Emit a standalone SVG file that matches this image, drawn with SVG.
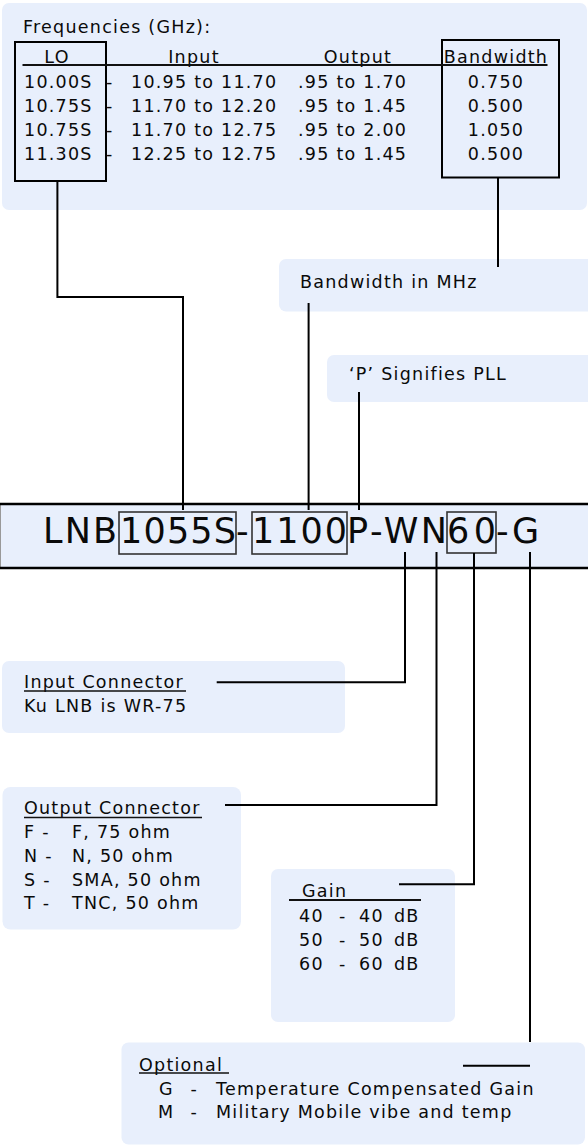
<svg xmlns="http://www.w3.org/2000/svg" width="588" height="1147" viewBox="0 0 588 1147">
<style>
.panel{fill:#e8effc}
.t{font-family:"DejaVu Sans",Verdana,sans-serif;font-size:17.5px;letter-spacing:1.25px;fill:#0a0a0a}
.big{font-family:"DejaVu Sans",Verdana,sans-serif;font-size:35px;fill:#0a0a0a}
.m{text-anchor:middle}
.ln{stroke:#000;stroke-width:2;fill:none}
.ul{stroke:#111;stroke-width:1.4;fill:none}
.box{fill:none;stroke:#000;stroke-width:2}
.sbox{fill:none;stroke:#333;stroke-width:1.6}
</style>
<rect width="588" height="1147" fill="#fff"/>
<g id="freq-table">
<rect class="panel" x="2" y="3" width="585" height="207" rx="7"/>
<text class="t" x="23" y="33">Frequencies (GHz):</text>
<rect class="box" x="15" y="42" width="91" height="139"/>
<rect class="box" x="442" y="40" width="117" height="137.5"/>
<text class="t m" x="57" y="63.3">LO</text>
<text class="t m" x="194" y="63.3">Input</text>
<text class="t m" x="358" y="63.3">Output</text>
<text class="t m" x="496" y="63.3">Bandwidth</text>
<line class="ul" x1="22.5" y1="65" x2="547.5" y2="65" style="stroke-width:1.8"/>
<text class="t" y="87.7"><tspan x="24">10.00S</tspan><tspan x="106">-</tspan><tspan x="131">10.95 to 11.70</tspan><tspan x="298">.95 to 1.70</tspan></text>
<text class="t m" x="496" y="87.7">0.750</text>
<text class="t" y="111.9"><tspan x="24">10.75S</tspan><tspan x="106">-</tspan><tspan x="131">11.70 to 12.20</tspan><tspan x="298">.95 to 1.45</tspan></text>
<text class="t m" x="496" y="111.9">0.500</text>
<text class="t" y="136.1"><tspan x="24">10.75S</tspan><tspan x="106">-</tspan><tspan x="131">11.70 to 12.75</tspan><tspan x="298">.95 to 2.00</tspan></text>
<text class="t m" x="496" y="136.1">1.050</text>
<text class="t" y="160.3"><tspan x="24">11.30S</tspan><tspan x="106">-</tspan><tspan x="131">12.25 to 12.75</tspan><tspan x="298">.95 to 1.45</tspan></text>
<text class="t m" x="496" y="160.3">0.500</text>
</g>
<g id="bandwidth-note">
<rect class="panel" x="279" y="259" width="320" height="52.5" rx="7"/>
<text class="t" x="300" y="288">Bandwidth in MHz</text>
</g>
<g id="pll-note">
<rect class="panel" x="327" y="355" width="270" height="47" rx="7"/>
<text class="t" x="349" y="380">‘P’ Signifies PLL</text>
</g>
<g id="part-number">
<rect class="panel" x="0" y="504" width="590" height="64"/>
<line x1="0.5" y1="504" x2="0.5" y2="568" stroke="#999" stroke-width="1"/>
<line class="ln" x1="0" y1="504" x2="588" y2="504" style="stroke-width:2.4"/>
<line class="ln" x1="0" y1="568" x2="588" y2="568" style="stroke-width:2.4"/>
<rect class="sbox" x="119" y="512" width="117" height="42"/>
<rect class="sbox" x="252" y="512" width="95" height="42"/>
<rect class="sbox" x="447" y="512" width="49" height="41"/>
<text class="big" x="43" y="543" textLength="74" lengthAdjust="spacing">LNB</text>
<text class="big" x="120" y="543" textLength="116" lengthAdjust="spacing">1055S</text>
<text class="big" x="236" y="543">-</text>
<text class="big" x="252" y="543" textLength="95" lengthAdjust="spacing">1100</text>
<text class="big" x="347" y="543" textLength="100" lengthAdjust="spacing">P-WN</text>
<text class="big" x="447" y="543" textLength="49" lengthAdjust="spacing">60</text>
<text class="big" x="496" y="543" textLength="43" lengthAdjust="spacing">-G</text>
</g>
<g id="input-connector">
<rect class="panel" x="2" y="661" width="343" height="72" rx="7"/>
<text class="t" x="24" y="688.3">Input Connector</text>
<line class="ul" x1="24" y1="691" x2="186" y2="691"/>
<text class="t" x="24" y="711.7">Ku LNB is WR-75</text>
</g>
<g id="output-connector">
<rect class="panel" x="2.5" y="787" width="238.5" height="142.5" rx="8"/>
<text class="t" x="24" y="814.3">Output Connector</text>
<line class="ul" x1="24" y1="817.5" x2="202" y2="817.5"/>
<text class="t" y="837.7"><tspan x="24">F -</tspan><tspan x="72">F, 75 ohm</tspan></text>
<text class="t" y="861.7"><tspan x="24">N -</tspan><tspan x="72">N, 50 ohm</tspan></text>
<text class="t" y="886"><tspan x="24">S -</tspan><tspan x="72">SMA, 50 ohm</tspan></text>
<text class="t" y="909.3"><tspan x="24">T -</tspan><tspan x="72">TNC, 50 ohm</tspan></text>
</g>
<g id="gain">
<rect class="panel" x="271" y="869" width="184" height="153" rx="7"/>
<text class="t" x="302" y="897.3">Gain</text>
<line class="ul" x1="289" y1="900" x2="421" y2="900" style="stroke-width:1.8"/>
<text class="t" y="921.7"><tspan x="299">40</tspan><tspan x="339">-</tspan><tspan x="359">40</tspan><tspan x="394">dB</tspan></text>
<text class="t" y="946"><tspan x="299">50</tspan><tspan x="339">-</tspan><tspan x="359">50</tspan><tspan x="394">dB</tspan></text>
<text class="t" y="970"><tspan x="299">60</tspan><tspan x="339">-</tspan><tspan x="359">60</tspan><tspan x="394">dB</tspan></text>
</g>
<g id="optional">
<rect class="panel" x="121.5" y="1042.5" width="463.5" height="102" rx="7"/>
<text class="t" x="139" y="1070.7">Optional</text>
<line class="ul" x1="139" y1="1073" x2="229" y2="1073"/>
<text class="t" y="1095"><tspan x="159">G</tspan><tspan x="190.5">-</tspan><tspan x="216">Temperature Compensated Gain</tspan></text>
<text class="t" y="1118.3"><tspan x="158">M</tspan><tspan x="190.5">-</tspan><tspan x="216">Military Mobile vibe and temp</tspan></text>
</g>
<g id="connectors">
<polyline class="ln" points="57.4,181 57.4,297 183,297 183,510"/>
<line class="ln" x1="498" y1="177.5" x2="498" y2="267"/>
<line class="ln" x1="308.6" y1="303" x2="308.6" y2="510"/>
<line class="ln" x1="359" y1="392" x2="359" y2="510"/>
<polyline class="ln" points="405,552 405,682.3 216.7,682.3"/>
<polyline class="ln" points="436.5,552 436.5,805 225,805"/>
<polyline class="ln" points="474,553 474,884.3 399,884.3"/>
<line class="ln" x1="530" y1="552" x2="530" y2="1042"/>
<line class="ln" x1="463" y1="1065.7" x2="530" y2="1065.7"/>
</g>
</svg>
